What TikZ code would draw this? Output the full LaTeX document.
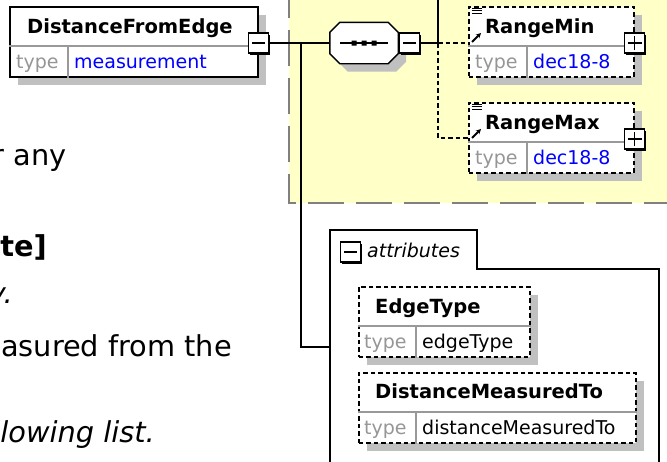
\documentclass[tikz,border=0pt]{standalone}
\usepackage{fontspec}
\setmainfont{DejaVu Sans}
\usetikzlibrary{arrows.meta,shadows,calc}
\definecolor{grpY}{RGB}{255,255,200}
\definecolor{grpG}{RGB}{128,128,128}
\definecolor{valB}{RGB}{0,0,255}
\definecolor{tagG}{RGB}{150,150,150}
\definecolor{shdG}{RGB}{192,192,192}
\begin{document}
\begin{tikzpicture}[x=1pt,y=-1pt,>={Stealth[length=5pt,width=5pt]},
 elbox/.style={draw,line width=1.5pt,fill=white,anchor=north west,inner sep=0pt,minimum height=70pt,drop shadow={shadow xshift=8.5pt,shadow yshift=-8.5pt,fill=shdG,opacity=1}},
 optbox/.style={elbox,dash pattern=on 4.5pt off 3pt},
 divline/.style={draw=black!40,line width=1.1pt},
 eltitle/.style={font=\fontsize{19.5}{23}\selectfont\bfseries,anchor=base west,inner sep=0pt},
 typetag/.style={font=\fontsize{19}{23}\selectfont,text=tagG,anchor=base west,inner sep=0pt},
 typeval/.style={font=\fontsize{19}{23}\selectfont,anchor=base west,inner sep=0pt},
 bodytxt/.style={font=\fontsize{28.8}{34}\selectfont,anchor=base east,inner sep=0pt},
 expbox/.style={draw,line width=1.4pt,fill=white,minimum size=20pt,inner sep=0pt,drop shadow={shadow xshift=1.8pt,shadow yshift=-1.8pt,fill=black,opacity=1}},
 minusbox/.style={expbox,path picture={\draw[line width=1.2pt] ($(path picture bounding box.center)+(-6.5,0)$) -- ($(path picture bounding box.center)+(6.5,0)$);}},
 plusbox/.style={expbox,path picture={\draw[line width=1.2pt] ($(path picture bounding box.center)+(-7,0)$) -- ($(path picture bounding box.center)+(7,0)$) ($(path picture bounding box.center)+(0,-7)$) -- ($(path picture bounding box.center)+(0,7)$);}},
 conn/.style={line width=1.4pt},
 optconn/.style={conn,dash pattern=on 4.5pt off 3pt}]
\useasboundingbox (0,0) rectangle (667,461);
\fill[grpY] (289,-10) rectangle (680,203);
\draw[grpG,line width=1.1pt,dash pattern=on 36pt off 12pt] (680,203) -- (289,203) -- (289,-10);

\node[bodytxt] (txt-any) at (67,165) {r any};
\node[bodytxt,font=\fontsize{28.8}{34}\selectfont\bfseries] (txt-te) at (47,256) {te]};
\node[bodytxt,font=\fontsize{28.8}{34}\selectfont\itshape] (txt-y) at (13,303) {y.};
\node[bodytxt] (txt-meas) at (232,356) {asured from the};
\node[bodytxt,font=\fontsize{28.8}{34}\selectfont\itshape] (txt-list) at (155,442) {llowing list.};

\coordinate (dfe-fork) at (301,43); \coordinate (seq-fork) at (438,43); \coordinate (prev-child) at (438,-10); \coordinate (attrs-in) at (330,347);
\node[minimum width=68pt,minimum height=41pt,inner sep=0pt] (seq) at (364,43) {};
\node[elbox,minimum width=248pt] (dfe) at (9,6) {};
\node[optbox,minimum width=165pt] (rmin) at (468,6) {};
\node[optbox,minimum width=165pt] (rmax) at (468,102) {};
\node[optbox,minimum width=171pt] (edt) at (358,286) {};
\node[optbox,minimum width=277pt] (dmt) at (358,372) {};

\draw[conn] (dfe.east |- dfe-fork) -- (seq.west);
\draw[conn] (dfe-fork) |- (attrs-in);
\draw[conn] (seq.east) -- (seq-fork) -- (prev-child);
\draw[optconn] (seq-fork) -- (rmin.west |- seq-fork);
\draw[optconn] (seq-fork) |- ($(rmax.north west)+(0,36)$);

\draw[divline] ($(dfe.north west)+(0,40)$) -- ($(dfe.north east)+(0,40)$) ($(dfe.north west)+(59,40)$) -- ($(dfe.south west)+(59,0)$);
\draw[divline] ($(rmin.north west)+(0,40)$) -- ($(rmin.north east)+(0,40)$) ($(rmin.north west)+(59,40)$) -- ($(rmin.south west)+(59,0)$);
\draw[divline] ($(rmax.north west)+(0,40)$) -- ($(rmax.north east)+(0,40)$) ($(rmax.north west)+(59,40)$) -- ($(rmax.south west)+(59,0)$);
\draw[divline] ($(edt.north west)+(0,40)$) -- ($(edt.north east)+(0,40)$) ($(edt.north west)+(58,40)$) -- ($(edt.south west)+(58,0)$);
\draw[divline] ($(dmt.north west)+(0,40)$) -- ($(dmt.north east)+(0,40)$) ($(dmt.north west)+(58,40)$) -- ($(dmt.south west)+(58,0)$);

\node[eltitle] (dfe-name) at ($(dfe.north west)+(18,27)$) {DistanceFromEdge};
\node[typetag] (dfe-tag) at ($(dfe.north west)+(7,62)$) {type};
\node[typeval,text=valB] (dfe-type) at ($(dfe.north west)+(65,62)$) {measurement};
\node[eltitle] (rmin-name) at ($(rmin.north west)+(17,27)$) {RangeMin};
\node[typetag] (rmin-tag) at ($(rmin.north west)+(7,62)$) {type};
\node[typeval,text=valB] (rmin-type) at ($(rmin.north west)+(65,62)$) {dec18-8};
\node[eltitle] (rmax-name) at ($(rmax.north west)+(17,27)$) {RangeMax};
\node[typetag] (rmax-tag) at ($(rmax.north west)+(7,62)$) {type};
\node[typeval,text=valB] (rmax-type) at ($(rmax.north west)+(65,62)$) {dec18-8};
\node[eltitle] (edt-name) at ($(edt.north west)+(17,27)$) {EdgeType};
\node[typetag] (edt-tag) at ($(edt.north west)+(6,62)$) {type};
\node[typeval] (edt-type) at ($(edt.north west)+(64,62)$) {edgeType};
\node[eltitle] (dmt-name) at ($(dmt.north west)+(17,26)$) {DistanceMeasuredTo};
\node[typetag] (dmt-tag) at ($(dmt.north west)+(6,62)$) {type};
\node[typeval] (dmt-type) at ($(dmt.north west)+(64,62)$) {distanceMeasuredTo};

\draw[line width=1pt] ($(rmin.north west)+(4,2)$) -- ++(10,0) ($(rmin.north west)+(4,4.7)$) -- ++(10,0) ($(rmin.north west)+(4,7.4)$) -- ++(10,0);
\draw[->,line width=1.8pt] ($(rmin.north west)+(4,36)$) -- ++(9,-9);
\draw[line width=1pt] ($(rmax.north west)+(4,2)$) -- ++(10,0) ($(rmax.north west)+(4,4.7)$) -- ++(10,0) ($(rmax.north west)+(4,7.4)$) -- ++(10,0);
\draw[->,line width=1.8pt] ($(rmax.north west)+(4,36)$) -- ++(9,-9);

\draw[line width=1.4pt,fill=white,drop shadow={shadow xshift=8pt,shadow yshift=-8pt,fill=shdG,opacity=1}] ($(seq.north west)+(10,0)$) -- ($(seq.north east)+(-10,0)$) -- ($(seq.north east)+(0,10)$) -- ($(seq.south east)+(0,-10)$) -- ($(seq.south east)+(-10,0)$) -- ($(seq.south west)+(10,0)$) -- ($(seq.south west)+(0,-10)$) -- ($(seq.north west)+(0,10)$) -- cycle;
\draw[line width=1.2pt] ($(seq.west)+(10,0)$) -- ($(seq.east)+(-10,0)$);
\fill ($(seq.center)+(-12.5,-2.5)$) rectangle ++(5,5) ($(seq.center)+(-2.5,-2.5)$) rectangle ++(5,5) ($(seq.center)+(7.5,-2.5)$) rectangle ++(5,5);

\node[minusbox] (dfe-minus) at ($(dfe.north east)+(0,37)$) {};
\node[minusbox] (seq-minus) at ($(seq.east)+(11,0)$) {};
\node[plusbox] (rmin-plus) at ($(rmin.north east)+(0,37)$) {};
\node[plusbox] (rmax-plus) at ($(rmax.north east)+(0,37)$) {};

\draw[line width=1.5pt] (330,480) -- (330,230) -- (477,230) -- (477,269) -- (659,269) -- (659,480);
\node[minusbox] (attrs-minus) at (350.5,252) {};
\node[font=\fontsize{19}{23}\selectfont\itshape,anchor=base west,inner sep=0pt] (attrs-lbl) at (367,257) {attributes};
\end{tikzpicture}
\end{document}
